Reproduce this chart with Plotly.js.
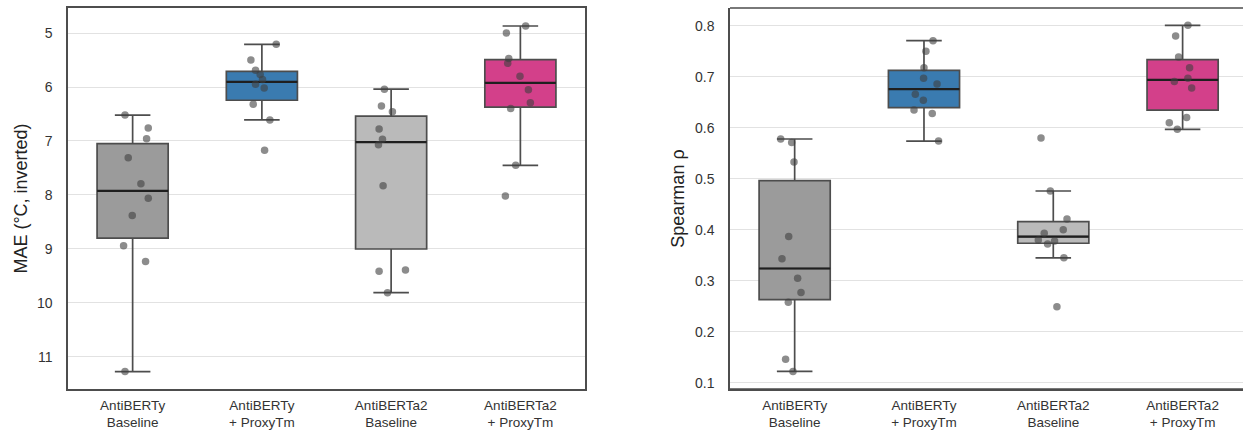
<!DOCTYPE html>
<html>
<head>
<meta charset="utf-8">
<script src="https://cdn.plot.ly/plotly-3.0.1.min.js"></script>
<style>html,body{margin:0;padding:0;background:#fff;}#chart{width:1243px;height:432px;}</style>
</head>
<body>
<div id="chart"></div>
<script>
// ---- Data ----
const categories = ["AntiBERTy<br>Baseline", "AntiBERTy<br>+ ProxyTm", "AntiBERTa2<br>Baseline", "AntiBERTa2<br>+ ProxyTm"];
const boxColors = ["#9b9b9b", "#3a7bb0", "#bababa", "#d3408a"];

// MAE (°C) per run
const maeAntiBERTyBase  = [11.27, 6.52, 6.76, 6.96, 7.31, 7.79, 8.06, 8.38, 8.94, 9.23];
const maeAntiBERTyProxy = [5.21, 5.50, 5.69, 5.77, 5.86, 5.95, 6.02, 6.32, 6.61, 7.17];
const maeAntiBERTa2Base = [6.04, 6.35, 6.46, 6.78, 6.97, 7.07, 7.83, 9.41, 9.39, 9.81];
const maeAntiBERTa2Proxy= [4.87, 5.00, 5.47, 5.56, 5.80, 6.05, 6.29, 6.40, 7.45, 8.02];
// horizontal jitter of the strip points (category units)
const maeJitterBase1  = [-0.059, -0.059, 0.121, 0.108, -0.034, 0.064, 0.121, -0.003, -0.070, 0.100];
const maeJitterProxy1 = [0.111, -0.085, -0.049, -0.013, 0.005, -0.049, 0.018, -0.067, 0.062, 0.021];
const maeJitterBase2  = [-0.052, -0.075, 0.010, -0.093, -0.067, -0.098, -0.062, -0.093, 0.111, -0.028];
const maeJitterProxy2 = [0.041, -0.108, -0.090, -0.098, -0.003, 0.062, 0.077, -0.075, -0.036, -0.116];

// Spearman rho per run
const rhoAntiBERTyBase  = [0.578, 0.571, 0.533, 0.387, 0.343, 0.305, 0.277, 0.258, 0.146, 0.122];
const rhoAntiBERTyProxy = [0.771, 0.750, 0.718, 0.697, 0.686, 0.666, 0.654, 0.635, 0.628, 0.574];
const rhoAntiBERTa2Base = [0.580, 0.476, 0.421, 0.400, 0.393, 0.380, 0.378, 0.372, 0.345, 0.249];
const rhoAntiBERTa2Proxy= [0.801, 0.780, 0.739, 0.718, 0.697, 0.691, 0.678, 0.620, 0.610, 0.597];
const rhoJitterBase1  = [-0.108, -0.023, -0.005, -0.046, -0.098, 0.023, 0.049, -0.049, -0.070, -0.013];
const rhoJitterProxy1 = [0.070, 0.015, 0.000, -0.003, 0.101, -0.067, -0.005, -0.077, 0.064, 0.113];
const rhoJitterBase2  = [-0.095, -0.023, 0.106, 0.077, -0.070, -0.116, 0.010, -0.044, 0.082, 0.028];
const rhoJitterProxy2 = [0.041, -0.054, -0.031, 0.054, 0.041, -0.064, 0.070, 0.031, -0.103, -0.041];

const maeSeries = [maeAntiBERTyBase, maeAntiBERTyProxy, maeAntiBERTa2Base, maeAntiBERTa2Proxy];
const maeJitter = [maeJitterBase1, maeJitterProxy1, maeJitterBase2, maeJitterProxy2];
const rhoSeries = [rhoAntiBERTyBase, rhoAntiBERTyProxy, rhoAntiBERTa2Base, rhoAntiBERTa2Proxy];
const rhoJitter = [rhoJitterBase1, rhoJitterProxy1, rhoJitterBase2, rhoJitterProxy2];

// ---- statistics (numpy-style linear percentiles, 1.5 IQR whiskers) ----
function pct(sorted, p) {
  const pos = p * (sorted.length - 1);
  const lo = Math.floor(pos), hi = Math.ceil(pos);
  return sorted[lo] + (sorted[hi] - sorted[lo]) * (pos - lo);
}
function stats(vals) {
  const s = vals.slice().sort((a, b) => a - b);
  const q1 = pct(s, 0.25), med = pct(s, 0.5), q3 = pct(s, 0.75);
  const iqr = q3 - q1;
  const inside = s.filter(v => v >= q1 - 1.5 * iqr && v <= q3 + 1.5 * iqr);
  return {q1, med, q3, lo: inside[0], hi: inside[inside.length - 1]};
}

const BOXW = 0.55;
const traces = [];
function addPanel(series, jitter, xa, ya) {
  series.forEach((vals, i) => {
    const st = stats(vals);
    traces.push({
      type: 'box', x: [i], q1: [st.q1], median: [st.med], q3: [st.q3],
      lowerfence: [st.lo], upperfence: [st.hi],
      width: BOXW, whiskerwidth: 0.5,
      fillcolor: boxColors[i], line: {color: '#4d4d4d', width: 1.7},
      boxpoints: false, hoverinfo: 'skip', showlegend: false, xaxis: xa, yaxis: ya
    });
    traces.push({
      type: 'scatter', mode: 'lines', x: [i - BOXW / 2, i + BOXW / 2], y: [st.med, st.med],
      line: {color: '#1f1f1f', width: 2.2}, hoverinfo: 'skip', showlegend: false, xaxis: xa, yaxis: ya
    });
  });
  series.forEach((vals, i) => {
    traces.push({
      type: 'scatter', mode: 'markers',
      x: vals.map((v, k) => i + jitter[i][k]), y: vals,
      marker: {size: 7.5, color: 'rgba(64,64,64,0.6)', line: {width: 0}},
      hoverinfo: 'skip', showlegend: false, xaxis: xa, yaxis: ya
    });
  });
}
addPanel(maeSeries, maeJitter, 'x', 'y');
addPanel(rhoSeries, rhoJitter, 'x2', 'y2');

const W = 1243;
const TXT = '#333333';
const FAM = 'Liberation Sans, Arial, sans-serif';
const font = {family: FAM, size: 14, color: TXT};
const xCommon = {
  tickmode: 'array', tickvals: [0, 1, 2, 3], ticktext: categories,
  showgrid: false, zeroline: false, ticks: '', ticklabelstandoff: 3,
  showline: true, linecolor: '#4d4d4d', linewidth: 1.7, mirror: true,
  tickfont: {family: FAM, size: 13.5, color: TXT}
};
const yCommon = {
  showgrid: true, gridcolor: '#e2e2e2', gridwidth: 1, zeroline: false, ticks: '',
  showline: true, linecolor: '#4d4d4d', linewidth: 1.7,
  tickfont: {family: FAM, size: 14, color: TXT}, ticklabelstandoff: 11
};

const layout = {
  width: W, height: 432,
  margin: {l: 0, r: 0, t: 8, b: 43},
  paper_bgcolor: '#fff', plot_bgcolor: '#fff',
  font: font, showlegend: false,
  xaxis: Object.assign({}, xCommon, {domain: [68 / W, 585 / W], range: [-0.5, 3.5], anchor: 'y'}),
  yaxis: Object.assign({}, yCommon, {
    domain: [0, 1], range: [11.593, 4.537], anchor: 'x', mirror: true,
    tickvals: [5, 6, 7, 8, 9, 10, 11],
    title: {text: 'MAE (°C, inverted)', font: {family: FAM, size: 18, color: '#222'}, standoff: 4}
  }),
  xaxis2: Object.assign({}, xCommon, {domain: [730 / W, 1], range: [-0.5, 3.467], anchor: 'y2', mirror: false}),
  yaxis2: Object.assign({}, yCommon, {
    domain: [0, 1], range: [0.0876, 0.835], anchor: 'x2', mirror: false,
    tickvals: [0.1, 0.2, 0.3, 0.4, 0.5, 0.6, 0.7, 0.8], tickformat: '.1f',
    title: {text: 'Spearman ρ', font: {family: FAM, size: 18, color: '#222'}, standoff: 6}
  }),
  shapes: [
    {type: 'line', xref: 'x2 domain', yref: 'y2 domain', x0: 0, x1: 1, y0: 1, y1: 1, line: {color: '#4d4d4d', width: 1.7}},
    {type: 'line', xref: 'x2 domain', yref: 'y2 domain', x0: 0, x1: 1, y0: 0, y1: 0, line: {color: '#4d4d4d', width: 1.7}}
  ]
};

Plotly.newPlot('chart', traces, layout, {displayModeBar: false, staticPlot: true});
</script>
</body>
</html>
